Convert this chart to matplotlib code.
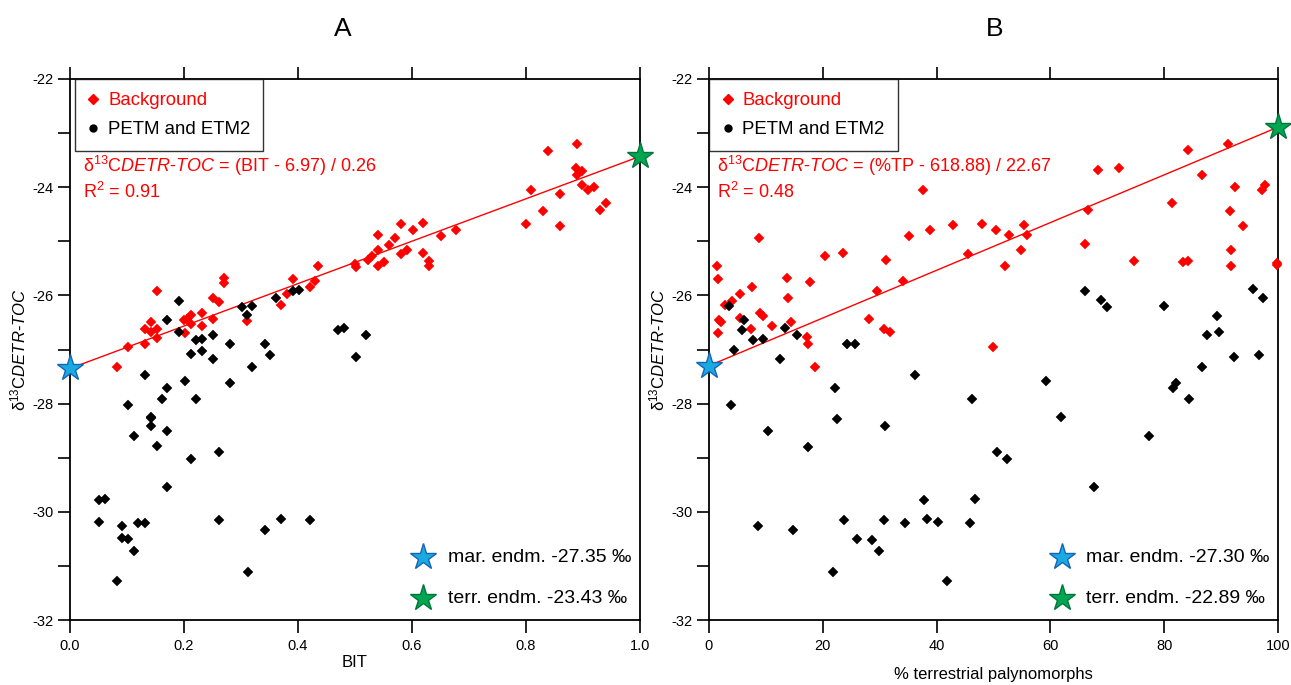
import numpy as np
import matplotlib
matplotlib.use('Agg')
import matplotlib.pyplot as plt
from matplotlib.lines import Line2D

plt.rcParams['font.family'] = ['Liberation Sans', 'DejaVu Sans']
plt.rcParams['mathtext.fontset'] = 'custom'
plt.rcParams['mathtext.rm'] = 'Liberation Sans'
plt.rcParams['mathtext.it'] = 'Liberation Sans:italic'
plt.rcParams['mathtext.bf'] = 'Liberation Sans:bold'
plt.rcParams['axes.unicode_minus'] = False

# panel A: BIT vs d13C
bit_bg = [0.152, 0.270, 0.271, 0.251, 0.262, 0.391, 0.381, 0.370, 0.421, 0.430, 0.435,
          0.200, 0.205, 0.212, 0.212, 0.231, 0.251, 0.231, 0.202, 0.311, 0.142, 0.131,
          0.142, 0.152, 0.152, 0.131, 0.102, 0.082, 0.889, 0.839, 0.888, 0.899, 0.889,
          0.899, 0.920, 0.909, 0.860, 0.809, 0.940, 0.930, 0.829, 0.800, 0.860, 0.678,
          0.650, 0.580, 0.620, 0.601, 0.541, 0.570, 0.560, 0.541, 0.591, 0.580, 0.620,
          0.629, 0.630, 0.530, 0.522, 0.550, 0.541, 0.500, 0.502]
d13c_bg_a = [-25.92, -25.67, -25.77, -26.04, -26.12, -25.70, -25.97, -26.17, -25.84, -25.73, -25.45,
             -26.45, -26.44, -26.36, -26.52, -26.33, -26.44, -26.57, -26.70, -26.47, -26.50, -26.63,
             -26.67, -26.63, -26.78, -26.89, -26.95, -27.32, -23.21, -23.33, -23.64, -23.70, -23.77,
             -23.96, -23.99, -24.06, -24.13, -24.05, -24.30, -24.42, -24.44, -24.68, -24.72, -24.80,
             -24.91, -24.68, -24.67, -24.79, -24.88, -24.93, -25.06, -25.16, -25.16, -25.23, -25.21,
             -25.36, -25.46, -25.27, -25.35, -25.38, -25.46, -25.42, -25.47]

bit_petm = [0.192, 0.171, 0.192, 0.301, 0.320, 0.311, 0.361, 0.392, 0.401, 0.221, 0.232,
            0.251, 0.212, 0.232, 0.251, 0.281, 0.342, 0.351, 0.320, 0.281, 0.132, 0.201,
            0.171, 0.161, 0.221, 0.102, 0.142, 0.142, 0.142, 0.171, 0.112, 0.152, 0.212,
            0.261, 0.171, 0.051, 0.062, 0.051, 0.091, 0.120, 0.132, 0.091, 0.102, 0.112,
            0.082, 0.261, 0.312, 0.342, 0.371, 0.421, 0.471, 0.481, 0.520, 0.501]
d13c_petm_a = [-26.10, -26.45, -26.68, -26.22, -26.19, -26.37, -26.04, -25.92, -25.90, -26.82, -26.81,
               -26.74, -27.09, -27.02, -27.17, -26.89, -26.89, -27.10, -27.33, -27.61, -27.48, -27.58,
               -27.72, -27.91, -27.92, -28.02, -28.24, -28.27, -28.41, -28.51, -28.60, -28.78, -29.03,
               -28.89, -29.54, -29.78, -29.77, -30.18, -30.26, -30.20, -30.21, -30.49, -30.51, -30.73,
               -31.28, -30.15, -31.11, -30.34, -30.14, -30.16, -26.64, -26.61, -26.74, -27.14]

# panel B: % terrestrial palynomorphs vs d13C
tp_bg = [1.35, 1.52, 5.45, 3.98, 2.81, 7.50, 13.76, 13.94, 17.75, 20.39, 23.60, 31.05, 34.04,
         29.58, 45.46, 1.76, 2.06, 1.52, 5.45, 8.96, 9.43, 7.32, 11.02, 14.36, 17.16, 17.46,
         18.63, 28.17, 30.81, 31.81, 49.97, 42.83, 48.03, 50.38, 52.78, 55.36, 55.95, 52.02,
         54.78, 66.02, 66.67, 68.42, 72.06, 74.70, 81.37, 84.18, 86.64, 83.25, 84.18, 91.16,
         92.50, 91.56, 93.90, 91.74, 91.74, 97.66, 97.19, 99.88, 99.88, 37.55, 8.73, 35.20, 38.84]
d13c_bg_b = [-25.46, -25.70, -25.97, -26.10, -26.18, -25.84, -25.67, -26.04, -25.76, -25.27, -25.22, -25.35, -25.73,
             -25.91, -25.23, -26.45, -26.50, -26.69, -26.42, -26.32, -26.38, -26.62, -26.56, -26.50, -26.77, -26.90,
             -27.32, -26.44, -26.62, -26.67, -26.95, -24.69, -24.68, -24.79, -24.88, -24.69, -24.89, -25.46,
             -25.17, -25.05, -24.42, -23.69, -23.65, -25.37, -24.30, -23.32, -23.77, -25.39, -25.37, -23.21,
             -24.00, -24.44, -24.72, -25.16, -25.45, -23.96, -24.06, -25.40, -25.44, -24.05, -24.93, -24.91, -24.79]

tp_petm = [3.57, 6.21, 5.85, 7.68, 9.43, 4.39, 12.48, 13.41, 15.52, 24.31, 25.72, 36.20, 22.14,
           22.44, 30.93, 3.92, 10.43, 17.34, 46.16, 50.56, 37.79, 46.75, 8.67, 14.71, 23.73, 30.81,
           34.45, 38.26, 40.25, 45.87, 25.96, 28.65, 29.88, 21.74, 41.88, 66.08, 68.84, 70.00, 80.02,
           95.55, 97.42, 89.34, 87.58, 89.69, 96.61, 92.32, 86.59, 59.17, 82.07, 81.49, 84.36, 61.92,
           77.38, 52.43, 67.66]
d13c_petm_b = [-26.19, -26.45, -26.64, -26.82, -26.81, -27.01, -27.17, -26.61, -26.74, -26.90, -26.90, -27.47, -27.72,
               -28.28, -28.41, -28.02, -28.51, -28.80, -27.92, -28.90, -29.78, -29.76, -30.26, -30.34, -30.16, -30.16,
               -30.21, -30.14, -30.18, -30.20, -30.50, -30.52, -30.73, -31.11, -31.28, -25.92, -26.09, -26.22, -26.20,
               -25.89, -26.04, -26.38, -26.74, -26.67, -27.11, -27.14, -27.33, -27.59, -27.61, -27.72, -27.92, -28.24,
               -28.60, -29.03, -29.54]

# endmembers (x range end points and d13C values)
endm_a = [-27.35, -23.43]
endm_b = [-27.30, -22.89]
xrange_a = [0.0, 1.0]
xrange_b = [0.0, 100.0]

MAR_FC, MAR_EC = '#1ba9e1', '#1565b8'
TER_FC, TER_EC = '#00a651', '#00773a'

ylab = 'δ$^{13}$C$\\mathit{DETR}$-$\\mathit{TOC}$'

fig = plt.figure(figsize=(12.91, 6.85), dpi=100)
W, H = 1291.0, 685.0
axA = fig.add_axes([70 / W, 1 - 620 / H, 570 / W, 541 / H])
axB = fig.add_axes([709 / W, 1 - 620 / H, 569 / W, 541 / H])


def draw_panel(ax, xb, yb, xp, yp, xr, endm, title, title_x, eq, r2, eq_x,
               xlabel, xlabelpad, xticks, xticklabels, legend_x):
    ax.plot(xr, endm, color='red', lw=1, zorder=2)
    ax.plot(xb, yb, ls='', marker='D', ms=4.6, mfc='red', mec='red', mew=0.3, zorder=3, clip_on=False)
    ax.plot(xp, yp, ls='', marker='D', ms=4.6, mfc='black', mec='black', mew=0.3, zorder=3, clip_on=False)
    ax.plot(xr[0], endm[0], ls='', marker='*', ms=20, mfc=MAR_FC, mec=MAR_EC, mew=1, zorder=5, clip_on=False)
    ax.plot(xr[1], endm[1], ls='', marker='*', ms=20, mfc=TER_FC, mec=TER_EC, mew=1, zorder=5, clip_on=False)

    ax.set_xlim(xr)
    ax.set_ylim(-32, -22)
    ax.set_yticks(np.arange(-32, -21, 2))
    ax.set_yticks(np.arange(-31, -22, 2), minor=True)
    ax.set_xticks(xticks)
    ax.set_xticklabels(xticklabels)
    ax.tick_params(axis='y', which='both', direction='out', length=9, width=1.2, labelsize=10.5, pad=3,
                   right=False)
    ax.tick_params(axis='x', which='both', direction='out', length=9, width=1.2, labelsize=10.5, pad=5,
                   top=True)
    for s in ax.spines.values():
        s.set_linewidth(1.3)

    ax.set_xlabel(xlabel, fontsize=12, labelpad=xlabelpad)
    ax.set_ylabel(ylab, fontsize=12, labelpad=3)
    ax.set_title(title, fontsize=19, x=title_x, pad=31)

    ax.text(eq_x, 0.839, eq, transform=ax.transAxes, color='red', fontsize=13, va='center', ha='left')
    ax.text(eq_x, 0.791, r2, transform=ax.transAxes, color='red', fontsize=13, va='center', ha='left')

    handles = [Line2D([], [], ls='', marker='D', ms=5, mfc='red', mec='red'),
               Line2D([], [], ls='', marker='o', ms=5, mfc='black', mec='black')]
    leg = ax.legend(handles, ['Background', 'PETM and ETM2'], loc='upper left',
                    bbox_to_anchor=(legend_x, 1.0), borderaxespad=0, fontsize=13.4,
                    frameon=True, fancybox=False, edgecolor='black', handlelength=0.6,
                    handletextpad=0.5, labelspacing=0.66, borderpad=0.7)
    leg.get_frame().set_linewidth(1.0)
    for t, c in zip(leg.get_texts(), ['red', 'black']):
        t.set_color(c)

    # endmember key
    ax.plot(0.62, 0.116, transform=ax.transAxes, ls='', marker='*', ms=20, mfc=MAR_FC, mec=MAR_EC, mew=1)
    ax.plot(0.62, 0.040, transform=ax.transAxes, ls='', marker='*', ms=20, mfc=TER_FC, mec=TER_EC, mew=1)
    ax.text(0.663, 0.116, 'mar. endm. %.2f ‰' % endm[0], transform=ax.transAxes, fontsize=14, va='center')
    ax.text(0.663, 0.040, 'terr. endm. %.2f ‰' % endm[1], transform=ax.transAxes, fontsize=14, va='center')


draw_panel(axA, bit_bg, d13c_bg_a, bit_petm, d13c_petm_a, xrange_a, endm_a,
           'A', (343 - 70) / 570, ylab + ' = (BIT - 6.97) / 0.26', 'R$^{2}$ = 0.91', 0.023,
           'BIT', 1, [0, 0.2, 0.4, 0.6, 0.8, 1.0], ['0.0', '0.2', '0.4', '0.6', '0.8', '1.0'], 0.008)
draw_panel(axB, tp_bg, d13c_bg_b, tp_petm, d13c_petm_b, xrange_b, endm_b,
           'B', (995 - 709) / 569, ylab + ' = (%TP - 618.88) / 22.67', 'R$^{2}$ = 0.48', 0.014,
           '% terrestrial palynomorphs', 10, [0, 20, 40, 60, 80, 100],
           ['0', '20', '40', '60', '80', '100'], 0.0)

fig.savefig('out.png', dpi=100)
